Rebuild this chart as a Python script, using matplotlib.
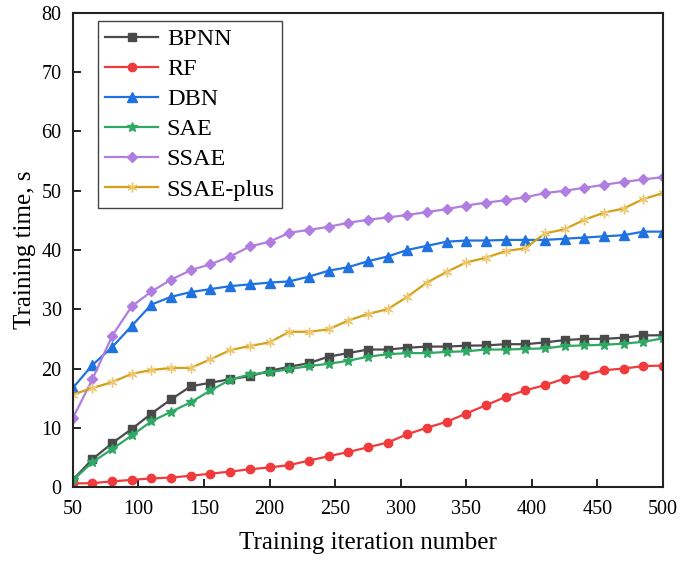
import numpy as np
import matplotlib
matplotlib.use('Agg')
import matplotlib.pyplot as plt

plt.rcParams['font.family'] = ['Liberation Serif', 'DejaVu Serif']

# training iterations
iterations = list(range(50, 501, 15))

bpnn = [1.2, 4.7, 7.4, 9.8, 12.4, 14.8, 17.0, 17.6, 18.2, 18.7, 19.6, 20.3, 20.9, 22.0, 22.6, 23.2,
        23.2, 23.5, 23.7, 23.7, 23.85, 23.9, 24.1, 24.1, 24.4, 24.8, 25.0, 25.0, 25.2, 25.6, 25.6]
rf = [0.6, 0.65, 0.95, 1.2, 1.45, 1.6, 1.9, 2.25, 2.6, 3.0, 3.3, 3.7, 4.45, 5.2, 5.9, 6.7,
      7.5, 8.9, 10.0, 11.0, 12.4, 13.8, 15.2, 16.3, 17.2, 18.3, 18.9, 19.7, 20.0, 20.4, 20.5]
dbn = [16.7, 20.6, 23.6, 27.2, 30.8, 32.1, 32.9, 33.4, 33.9, 34.2, 34.5, 34.7, 35.5, 36.5, 37.1, 38.1,
       38.9, 40.0, 40.7, 41.4, 41.6, 41.6, 41.7, 41.7, 41.7, 41.9, 42.1, 42.3, 42.5, 43.1, 43.1]
sae = [1.1, 4.2, 6.4, 8.7, 11.1, 12.7, 14.3, 16.3, 18.1, 19.0, 19.35, 19.9, 20.4, 20.8, 21.3, 22.0,
       22.4, 22.6, 22.6, 22.8, 22.9, 23.2, 23.2, 23.3, 23.4, 23.8, 23.9, 24.0, 24.2, 24.5, 25.1]
ssae = [11.6, 18.2, 25.5, 30.5, 33.0, 35.0, 36.6, 37.6, 38.9, 40.6, 41.4, 42.9, 43.4, 43.9, 44.6, 45.1,
        45.5, 45.9, 46.4, 46.9, 47.5, 48.0, 48.4, 48.9, 49.6, 50.0, 50.5, 51.0, 51.5, 51.9, 52.3]
ssae_plus = [15.6, 16.7, 17.7, 19.1, 19.75, 20.1, 20.1, 21.55, 23.1, 23.8, 24.4, 26.2, 26.2, 26.6, 28.1, 29.2,
             30.0, 32.1, 34.5, 36.3, 37.9, 38.7, 39.8, 40.3, 42.8, 43.5, 45.1, 46.3, 47.0, 48.6, 49.6]

fig = plt.figure(figsize=(6.8, 5.64), dpi=100)
ax = fig.add_axes([0.107, 0.1365, 0.868, 0.8405])

ax.plot(iterations, bpnn, color='#4a4a4a', marker='s', markersize=5.5, lw=1.6, label='BPNN')
ax.plot(iterations, rf, color='#f03a3c', marker='o', markersize=6, lw=1.6, label='RF')
ax.plot(iterations, dbn, color='#1f72e0', marker='^', markersize=6.5, lw=1.6, label='DBN')
ax.plot(iterations, sae, color='#2fa864', marker='*', markersize=7, lw=1.6, label='SAE')
ax.plot(iterations, ssae, color='#b07ee0', marker='D', markersize=5.5, lw=1.6, label='SSAE')
ax.plot(iterations, ssae_plus, color='#d4a017', marker=(6, 2, 0), markersize=7, lw=1.6,
        markeredgecolor='#ecc870', markerfacecolor='#ecc870', label='SSAE-plus')

ax.set_xlim(50, 500)
ax.set_ylim(0, 80)
ax.set_xticks(range(50, 501, 50))
ax.set_yticks(range(0, 81, 10))
ax.tick_params(direction='in', length=6, width=1.2, labelsize=14.5, top=False, right=False)
ax.tick_params(axis='x', pad=9)
ax.tick_params(axis='y', pad=8)
for s in ax.spines.values():
    s.set_linewidth(1.5)
    s.set_color('#222222')

ax.set_xlabel('Training iteration number', fontsize=18, labelpad=10)
ax.set_ylabel('Training time, s', fontsize=18, labelpad=4)

leg = ax.legend(loc='upper left', bbox_to_anchor=(0.042, 0.983), borderaxespad=0, fontsize=17.5,
                handlelength=2.2, fancybox=False, edgecolor='#444444', framealpha=1, borderpad=0.3,
                labelspacing=0.33, handletextpad=0.35)
leg.get_frame().set_linewidth(1.0)

fig.savefig('out.png', dpi=100)
